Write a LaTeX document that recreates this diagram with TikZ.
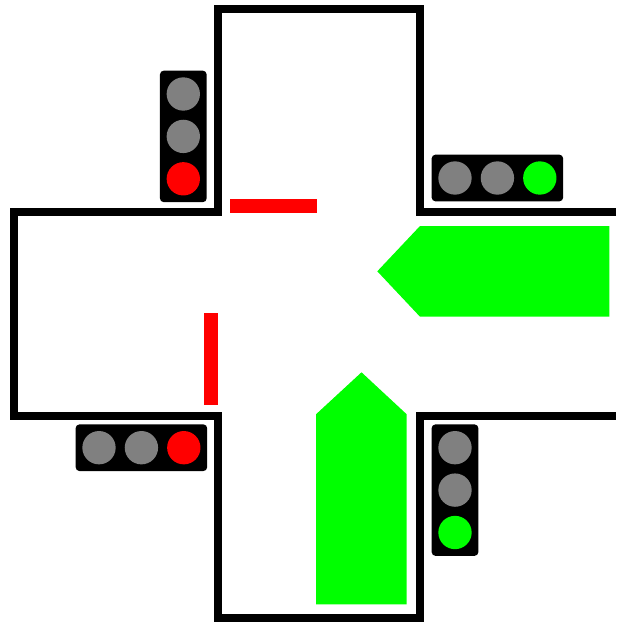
\documentclass[tikz,border=0pt]{standalone}
\usepackage{tikz}
\usetikzlibrary{positioning,fit,backgrounds}
\definecolor{lampoff}{RGB}{128,128,128}
\definecolor{lampred}{RGB}{255,0,0}
\definecolor{lampgreen}{RGB}{0,255,0}
\tikzset{
    % Road border
    kerb/.style={draw=black, line width=0.24cm, line join=miter},
    % Lamps of a signal head
    lamp/.style={circle, fill=lampoff, minimum size=1cm, inner sep=0pt},
    redlamp/.style={lamp, fill=lampred},
    greenlamp/.style={lamp, fill=lampgreen},
    % Black housing round the lamps
    housing/.style={rounded corners=0.12cm, fill=black, inner sep=0.195cm},
    % Stop lines and go arrows
    stopline/.style={fill=lampred},
    goarrow/.style={fill=lampgreen},
}

\begin{document}
\begin{tikzpicture}[x=0.03cm,y=-0.03cm,node distance=0.258cm]
  \useasboundingbox (0,0) rectangle (616,622);
  % crossroads outline, open to the east
  \draw[kerb] (616,212) -- (420,212) -- (420,8.7) -- (217.5,8.7) -- (217.5,212)
    -- (14,212) -- (14,415.5) -- (217.5,415.5) -- (217.5,618) -- (420,618)
    -- (420,415.5) -- (616,415.5);
  % stop lines
  \fill[stopline] (230,199) rectangle (317,212.7);
  \fill[stopline] (204,313) rectangle (217.7,404.7);
  % go arrows
  \fill[goarrow] (377.3,271.3) -- (420,226) -- (609.3,226) -- (609.3,316.7)
    -- (420,316.7) -- cycle;
  \fill[goarrow] (361.5,372.3) -- (406.7,414.3) -- (406.7,604.3) -- (316,604.3)
    -- (316,414.3) -- cycle;
  % north-west signal
  \node[lamp] (nw1) at (183.3,94) {};
  \node[lamp,below=of nw1] (nw2) {};
  \node[redlamp,below=of nw2] (nw3) {};
  % north-east signal
  \node[lamp] (ne1) at (455,178) {};
  \node[lamp,right=of ne1] (ne2) {};
  \node[greenlamp,right=of ne2] (ne3) {};
  % south-west signal
  \node[lamp] (sw1) at (99,447.7) {};
  \node[lamp,right=of sw1] (sw2) {};
  \node[redlamp,right=of sw2] (sw3) {};
  % south-east signal
  \node[lamp] (se1) at (455,447.7) {};
  \node[lamp,below=of se1] (se2) {};
  \node[greenlamp,below=of se2] (se3) {};
  \begin{scope}[on background layer]
    \node[housing,fit=(nw1)(nw3)] (nwbox) {};
    \node[housing,fit=(ne1)(ne3)] (nebox) {};
    \node[housing,fit=(sw1)(sw3)] (swbox) {};
    \node[housing,fit=(se1)(se3)] (sebox) {};
  \end{scope}
\end{tikzpicture}
\end{document}
